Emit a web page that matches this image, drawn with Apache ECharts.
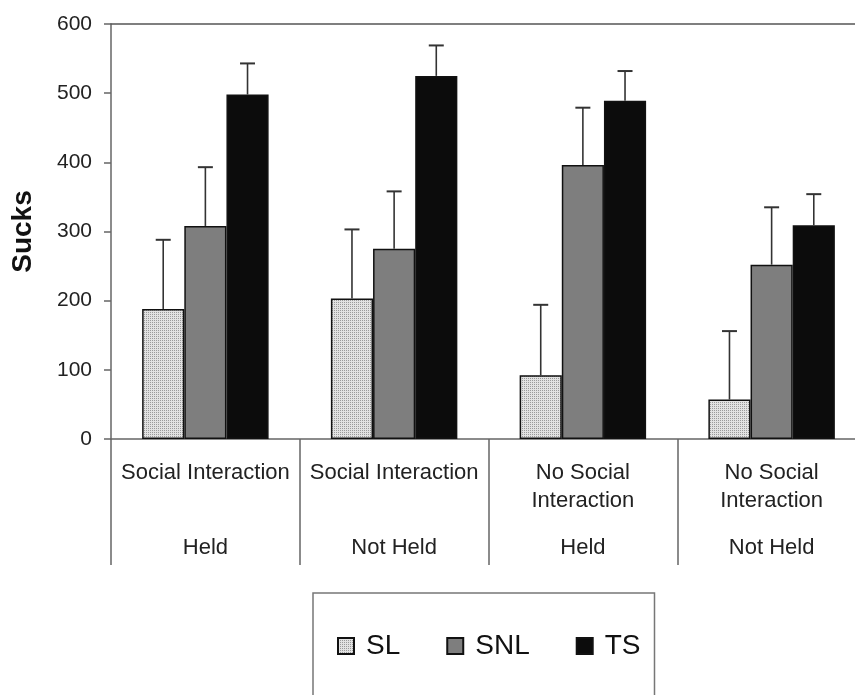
<!DOCTYPE html>
<html>
<head>
<meta charset="utf-8">
<script src="https://cdn.jsdelivr.net/npm/echarts@6/dist/echarts.min.js"></script>
<style>
html,body{margin:0;padding:0;background:#fff;}
#chart{width:855px;height:695px;}
</style>
</head>
<body>
<div id="chart"></div>
<script>
// ---- data ----
const conditions = ['Social Interaction', 'Social Interaction', 'No Social\nInteraction', 'No Social\nInteraction'];
const holding = ['Held', 'Not Held', 'Held', 'Not Held'];
const seriesNames = ['SL', 'SNL', 'TS'];
const SL = [188, 203, 92, 57];
const SL_err = [100, 100, 102, 99];
const SNL = [308, 275, 396, 252];
const SNL_err = [85, 83, 83, 83];
const TS = [498, 525, 489, 309];
const TS_err = [45, 44, 43, 45];
const yTicks = [0, 100, 200, 300, 400, 500, 600];

const categories = conditions.map((c, i) => c.replace('\n', ' ') + ' / ' + holding[i]);
const means = [SL, SNL, TS];
const errs = [SL_err, SNL_err, TS_err];

// dotted fill for SL
const pc = document.createElement('canvas');
pc.width = 2; pc.height = 2;
const pctx = pc.getContext('2d');
pctx.fillStyle = '#e2e2e2'; pctx.fillRect(0, 0, 2, 2);
pctx.fillStyle = '#9a9a9a'; pctx.fillRect(0, 0, 1, 1);
const fills = [{ image: pc, repeat: 'repeat' }, '#7e7e7e', '#0c0c0c'];

const GAP = 0.33;
const FONT = 'Liberation Sans, Arial, sans-serif';

const chart = echarts.init(document.getElementById('chart'), null, { renderer: 'canvas' });

function errRender(k) {
  return function (params, api) {
    const x = api.value(0), m = api.value(1), u = api.value(2);
    const base = api.coord([x, m]);
    const top = api.coord([x, u]);
    const band = api.size([1, 0])[0];
    const bw = band * (1 - GAP) / 3;
    const cx = base[0] + (k - 1) * bw;
    return {
      type: 'group',
      children: [
        { type: 'line', shape: { x1: cx, y1: base[1], x2: cx, y2: top[1] }, style: { stroke: '#333', lineWidth: 1.6 } },
        { type: 'line', shape: { x1: cx - 7.5, y1: top[1], x2: cx + 7.5, y2: top[1] }, style: { stroke: '#333', lineWidth: 2 } }
      ]
    };
  };
}

const series = [];
seriesNames.forEach((name, k) => {
  series.push({
    name: name,
    type: 'bar',
    xAxisIndex: 0,
    data: means[k],
    barGap: '0%',
    barCategoryGap: (GAP * 100) + '%',
    itemStyle: { color: fills[k], borderColor: '#111', borderWidth: 1.5 },
    emphasis: { disabled: true },
    z: 2
  });
});
seriesNames.forEach((name, k) => {
  series.push({
    name: name + ' error',
    type: 'custom',
    xAxisIndex: 0,
    renderItem: errRender(k),
    encode: { x: 0, y: [1, 2] },
    data: categories.map((c, i) => [i, means[k][i], means[k][i] + errs[k][i]]),
    z: 3,
    silent: true
  });
});

chart.setOption({
  animation: false,
  backgroundColor: '#fff',
  textStyle: { fontFamily: FONT },
  grid: { left: 111, top: 24, bottom: 256, width: 755, containLabel: false, outerBoundsMode: 'none' },
  legend: {
    data: seriesNames,
    left: 313,
    top: 593,
    orient: 'horizontal',
    padding: [39, 14, 40, 24],
    itemGap: 46,
    itemWidth: 16,
    itemHeight: 16,
    icon: 'rect',
    borderColor: '#777',
    borderWidth: 1.5,
    textStyle: { fontSize: 28, color: '#111', fontFamily: FONT, padding: [0, 0, 0, 7] }
  },
  xAxis: [
    {
      type: 'category',
      position: 'bottom',
      data: categories,
      axisLine: { show: true, lineStyle: { color: '#666', width: 1.5 } },
      axisTick: { show: true, length: 126, lineStyle: { color: '#666', width: 1.5 } },
      axisLabel: {
        interval: 0,
        margin: 20,
        fontSize: 22,
        lineHeight: 28,
        color: '#222',
        fontFamily: FONT,
        formatter: (v, i) => conditions[i]
      },
      splitLine: { show: false }
    },
    {
      type: 'category',
      position: 'bottom',
      data: categories,
      axisLine: { show: false },
      axisTick: { show: false },
      axisLabel: {
        interval: 0,
        margin: 95,
        fontSize: 22,
        lineHeight: 28,
        color: '#222',
        fontFamily: FONT,
        formatter: (v, i) => holding[i]
      },
      splitLine: { show: false }
    },
    {
      type: 'category',
      position: 'top',
      data: categories,
      axisLine: { show: true, lineStyle: { color: '#555', width: 1.5 } },
      axisTick: { show: false },
      axisLabel: { show: false },
      splitLine: { show: false }
    }
  ],
  yAxis: {
    type: 'value',
    min: yTicks[0],
    max: yTicks[yTicks.length - 1],
    interval: yTicks[1] - yTicks[0],
    name: 'Sucks',
    nameLocation: 'middle',
    nameGap: 74,
    nameTextStyle: { fontSize: 28, fontWeight: 'bold', color: '#111', fontFamily: FONT },
    axisLine: { show: true, lineStyle: { color: '#666', width: 1.5 } },
    axisTick: { show: true, length: 7, lineStyle: { color: '#666', width: 1.5 } },
    axisLabel: { fontSize: 21, color: '#222', margin: 19, fontFamily: FONT },
    splitLine: { show: false }
  },
  series: series
});
</script>
</body>
</html>
